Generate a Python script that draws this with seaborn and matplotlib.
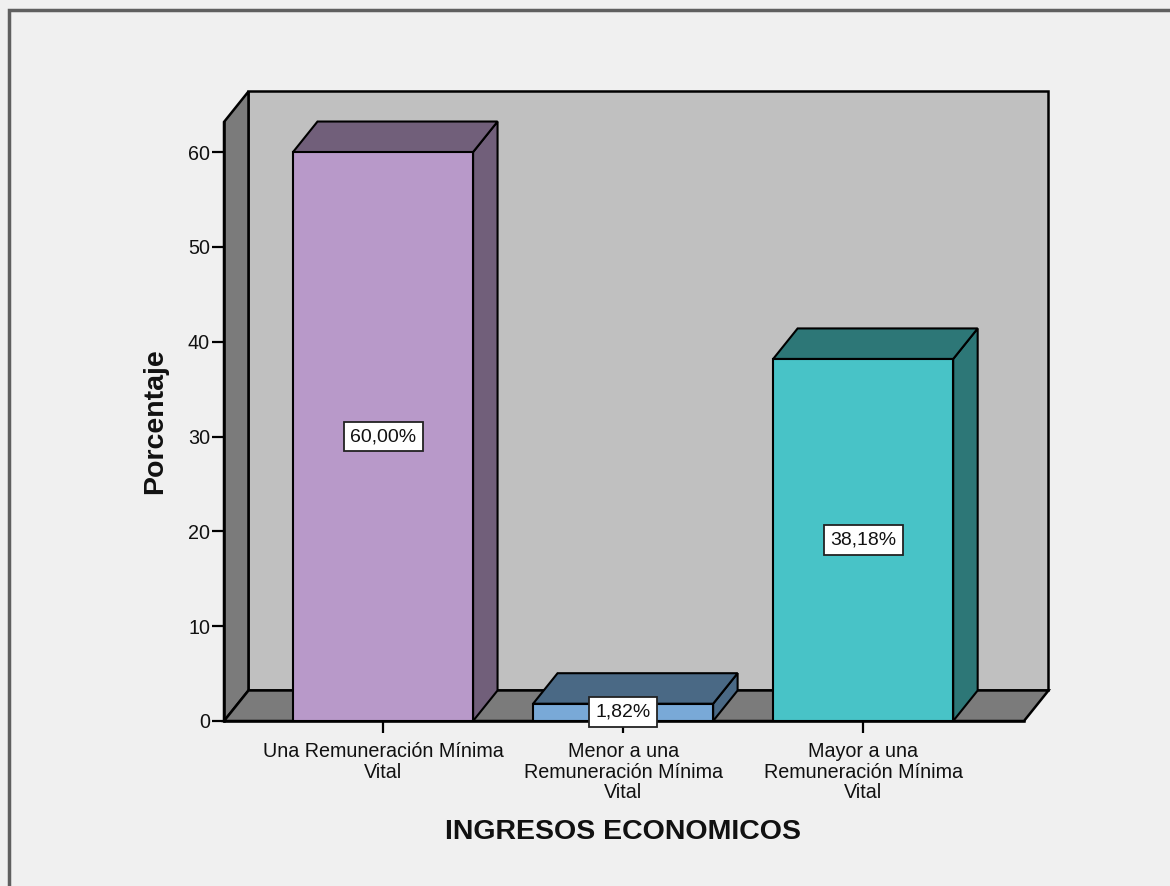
import matplotlib
matplotlib.use("Agg")
import matplotlib.pyplot as plt
from matplotlib.patches import Polygon, Rectangle
import seaborn as sns
import pandas as pd

# Income categories and their share of respondents (%)
categories = [
    "Una Remuneración Mínima\nVital",
    "Menor a una\nRemuneración Mínima\nVital",
    "Mayor a una\nRemuneración Mínima\nVital",
]
percentages = [60.00, 1.82, 38.18]
value_labels = ["60,00%", "1,82%", "38,18%"]
yticks = [0, 10, 20, 30, 40, 50, 60]

front_colors = ["#b899c9", "#79a9d7", "#48c3c7"]
shade_colors = ["#715f7a", "#4a6985", "#2d7777"]

sns.set_theme(style="white")
plt.rcParams["font.family"] = ["Liberation Sans", "DejaVu Sans"]

W, H = 1170, 886
fig = plt.figure(figsize=(W / 100, H / 100), dpi=100, facecolor="#f0f0f0")
ax = fig.add_axes([224 / W, (H - 721) / H, 800 / W, (721 - 122) / H])
ax.set_facecolor("none")

# pseudo-3D depth of the chart box, in data units
DX, DY = 0.102, 3.22
XMIN, XMAX, YMAX = -0.6625, 2.67, 63.17

df = pd.DataFrame({"ingreso": categories, "porcentaje": percentages})
sns.barplot(data=df, x="ingreso", y="porcentaje", hue="ingreso",
            palette=front_colors, saturation=1, width=0.75, edgecolor="black",
            linewidth=1.5, legend=False, ax=ax, zorder=4)
bars = list(ax.patches)

# back wall, left wall and floor
wall_kw = dict(closed=True, ec="black", lw=1.8, clip_on=False, joinstyle="miter")
ax.add_patch(Polygon([(XMIN + DX, DY), (XMAX + DX, DY), (XMAX + DX, YMAX + DY),
                      (XMIN + DX, YMAX + DY)], fc="#c0c0c0", zorder=1, **wall_kw))
ax.add_patch(Polygon([(XMIN, 0), (XMIN + DX, DY), (XMIN + DX, YMAX + DY),
                      (XMIN, YMAX)], fc="#7b7b7b", zorder=2, **wall_kw))
ax.add_patch(Polygon([(XMIN, 0), (XMAX, 0), (XMAX + DX, DY), (XMIN + DX, DY)],
                     fc="#7b7b7b", zorder=2, **wall_kw))

# side and top faces of each bar, plus the value boxes
for bar, shade, lab in zip(bars, shade_colors, value_labels):
    x0 = bar.get_x()
    x1 = x0 + bar.get_width()
    h = bar.get_height()
    face_kw = dict(closed=True, fc=shade, ec="black", lw=1.5, clip_on=False,
                   zorder=3, joinstyle="miter")
    ax.add_patch(Polygon([(x1, 0), (x1 + DX, DY), (x1 + DX, h + DY), (x1, h)], **face_kw))
    ax.add_patch(Polygon([(x0, h), (x1, h), (x1 + DX, h + DY), (x0 + DX, h + DY)], **face_kw))
    ax.text(x0 + bar.get_width() / 2, h / 2, lab, ha="center", va="center",
            fontsize=14, color="#111111", zorder=6,
            bbox=dict(boxstyle="square,pad=0.33", fc="white", ec="#222222", lw=1.3))

ax.set_xlim(XMIN, XMAX)
ax.set_ylim(0, YMAX)
ax.set_yticks(yticks)
ax.set_yticklabels([str(t) for t in yticks])
for s in ("top", "right"):
    ax.spines[s].set_visible(False)
for s in ("left", "bottom"):
    ax.spines[s].set_color("black")
    ax.spines[s].set_linewidth(1.8)
    ax.spines[s].set_zorder(5)

ax.tick_params(axis="both", direction="out", length=8.5, width=1.6, color="black",
               labelsize=14.2, labelcolor="#111111", left=True, bottom=True)
ax.tick_params(axis="y", pad=1.5)
ax.tick_params(axis="x", pad=6.5)
for t in ax.get_xticklabels():
    t.set_linespacing(1.12)
    t.set_ha("center")

ax.set_xlabel("INGRESOS ECONOMICOS", fontsize=20.5, fontweight="bold", color="#111111")
ax.xaxis.set_label_coords(0.499, -0.1853)
ax.xaxis.label.set_va("center")
ax.set_ylabel("Porcentaje", fontsize=20.5, fontweight="bold", color="#111111")
ax.yaxis.set_label_coords(-0.08625, 0.5008)
ax.yaxis.label.set_va("center")

# outer chart frame
fig.add_artist(Rectangle((9 / W, -0.05), 1.2, 1 - 10 / H + 0.05,
                         transform=fig.transFigure, fill=False,
                         ec="#5f5f5f", lw=2.5))

fig.savefig("out.png", dpi=100, facecolor=fig.get_facecolor())
